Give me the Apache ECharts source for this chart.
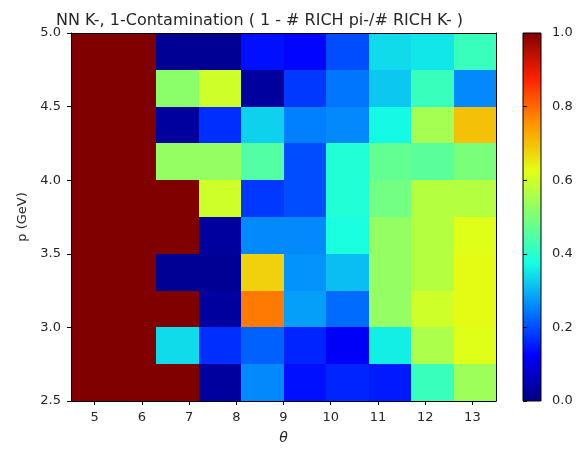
<!DOCTYPE html>
<html>
<head>
    <meta charset="utf-8">
    <title>NN K- contamination</title>
    <script src="https://cdn.jsdelivr.net/npm/echarts@6/dist/echarts.min.js"></script>
</head>
<body style="margin:0; background:#fff;">
<div id="main" style="width: 577px; height: 450px;"></div>
<script type="text/javascript">
    // bin edges (theta, p)
    var xEdges = [4.5, 5.4, 6.3, 7.2, 8.1, 9.0, 9.9, 10.8, 11.7, 12.6, 13.5];
    var yEdges = [2.5, 2.75, 3.0, 3.25, 3.5, 3.75, 4.0, 4.25, 4.5, 4.75, 5.0];
    var xTicks = [5, 6, 7, 8, 9, 10, 11, 12, 13];
    var yTicks = [2.5, 3.0, 3.5, 4.0, 4.5, 5.0];
    var cbTicks = [0.0, 0.2, 0.4, 0.6, 0.8, 1.0];

    // 1 - contamination, one row per p bin, bottom (2.5) to top (5.0)
    var row0 = [1, 1, 1,    0.03, 0.26, 0.14, 0.16, 0.15, 0.42, 0.54];
    var row1 = [1, 1, 0.34, 0.17, 0.22, 0.16, 0.12, 0.36, 0.56, 0.62];
    var row2 = [1, 1, 1,    0.03, 0.78, 0.28, 0.23, 0.53, 0.60, 0.63];
    var row3 = [1, 1, 0.02, 0.02, 0.68, 0.27, 0.31, 0.53, 0.57, 0.63];
    var row4 = [1, 1, 1,    0.03, 0.26, 0.26, 0.38, 0.53, 0.57, 0.62];
    var row5 = [1, 1, 1,    0.60, 0.18, 0.20, 0.39, 0.49, 0.57, 0.57];
    var row6 = [1, 1, 0.53, 0.53, 0.45, 0.20, 0.39, 0.47, 0.46, 0.50];
    var row7 = [1, 1, 0.03, 0.17, 0.33, 0.25, 0.26, 0.37, 0.55, 0.70];
    var row8 = [1, 1, 0.52, 0.60, 0.03, 0.18, 0.24, 0.32, 0.42, 0.26];
    var row9 = [1, 1, 0.02, 0.02, 0.14, 0.13, 0.20, 0.34, 0.35, 0.42];
    var rows = [row0, row1, row2, row3, row4, row5, row6, row7, row8, row9];

    // matplotlib jet
    var jet = ['#000080', '#0000ff', '#0080ff', '#15ffe3', '#7aff7a',
               '#e3ff15', '#ff9600', '#ff2100', '#800000'];

    var cells = [];
    for (var j = 0; j < rows.length; j++) {
        for (var i = 0; i < rows[j].length; i++) {
            cells.push([xEdges[i], yEdges[j], xEdges[i + 1], yEdges[j + 1], rows[j][i]]);
        }
    }

    var myChart = echarts.init(document.getElementById('main'));
    var txt = '#262626';
    var font = 'DejaVu Sans';

    function fmt1(v) { return Number(v).toFixed(1); }

    var option = {
        animation: false,
        textStyle: { fontFamily: font },
        title: {
            text: 'NN K-, 1-Contamination ( 1 - # RICH pi-/# RICH K- )',
            left: 51,
            top: 8,
            textStyle: { fontSize: 16, fontWeight: 'normal', color: txt, fontFamily: font }
        },
        grid: [
            { left: 71, top: 33, width: 425, height: 368 },
            { left: 523, top: 33, width: 18, height: 368 }
        ],
        visualMap: {
            show: false,
            seriesIndex: 0,
            dimension: 4,
            min: 0,
            max: 1,
            inRange: { color: jet }
        },
        xAxis: [
            {
                gridIndex: 0, type: 'value', min: 4.5, max: 13.5, z: 5,
                name: 'θ', nameLocation: 'middle', nameGap: 30,
                nameTextStyle: { fontStyle: 'italic', fontSize: 14, color: txt },
                splitLine: { show: false },
                axisLine: { lineStyle: { color: '#000', width: 1 } },
                axisTick: { customValues: xTicks, length: 4, lineStyle: { color: '#000' } },
                axisLabel: { customValues: xTicks, fontSize: 13, color: txt, margin: 10 }
            },
            {
                gridIndex: 0, type: 'value', min: 4.5, max: 13.5, position: 'top', z: 5,
                splitLine: { show: false },
                axisLine: { lineStyle: { color: '#000', width: 1 } },
                axisTick: { show: false },
                axisLabel: { show: false }
            },
            {
                gridIndex: 1, type: 'value', min: 0, max: 1, show: false
            }
        ],
        yAxis: [
            {
                gridIndex: 0, type: 'value', min: 2.5, max: 5.0, interval: 0.5, z: 5,
                name: 'p (GeV)', nameLocation: 'middle', nameGap: 42,
                nameTextStyle: { fontSize: 13, color: txt },
                splitLine: { show: false },
                axisLine: { show: true, lineStyle: { color: '#000', width: 1 } },
                axisTick: { show: true, length: 4, lineStyle: { color: '#000' } },
                axisLabel: { fontSize: 13, color: txt, margin: 10, formatter: fmt1 }
            },
            {
                gridIndex: 0, type: 'value', min: 2.5, max: 5.0, position: 'right', z: 5,
                splitLine: { show: false },
                axisLine: { show: true, lineStyle: { color: '#000', width: 1 } },
                axisTick: { show: false },
                axisLabel: { show: false }
            },
            {
                gridIndex: 1, type: 'value', min: 0, max: 1, interval: 0.2, position: 'right', z: 5,
                splitLine: { show: false },
                axisLine: { show: false },
                axisTick: { show: true, length: 4, lineStyle: { color: '#000' } },
                axisLabel: { fontSize: 13, color: txt, margin: 11, formatter: fmt1 }
            }
        ],
        series: [
            {
                type: 'custom',
                xAxisIndex: 0,
                yAxisIndex: 0,
                encode: { x: [0, 2], y: [1, 3] },
                data: cells,
                renderItem: function(params, api) {
                    var p0 = api.coord([api.value(0), api.value(1)]);
                    var p1 = api.coord([api.value(2), api.value(3)]);
                    var x0 = Math.round(p0[0]), x1 = Math.round(p1[0]);
                    var y0 = Math.round(p0[1]), y1 = Math.round(p1[1]);
                    return {
                        type: 'rect',
                        shape: { x: x0, y: y1, width: x1 - x0, height: y0 - y1 },
                        style: { fill: api.visual('color') }
                    };
                }
            },
            {
                type: 'custom',
                xAxisIndex: 2,
                yAxisIndex: 2,
                data: [[0, 0, 1, 1]],
                renderItem: function(params, api) {
                    var p0 = api.coord([0, 0]);
                    var p1 = api.coord([1, 1]);
                    var stops = jet.map(function(c, k) {
                        return { offset: k / (jet.length - 1), color: c };
                    });
                    return {
                        type: 'rect',
                        shape: { x: p0[0], y: p1[1], width: p1[0] - p0[0], height: p0[1] - p1[1] },
                        style: {
                            fill: new echarts.graphic.LinearGradient(0, 1, 0, 0, stops),
                            stroke: '#000',
                            lineWidth: 1
                        }
                    };
                }
            }
        ]
    };

    myChart.setOption(option);
</script>
</body>
</html>
